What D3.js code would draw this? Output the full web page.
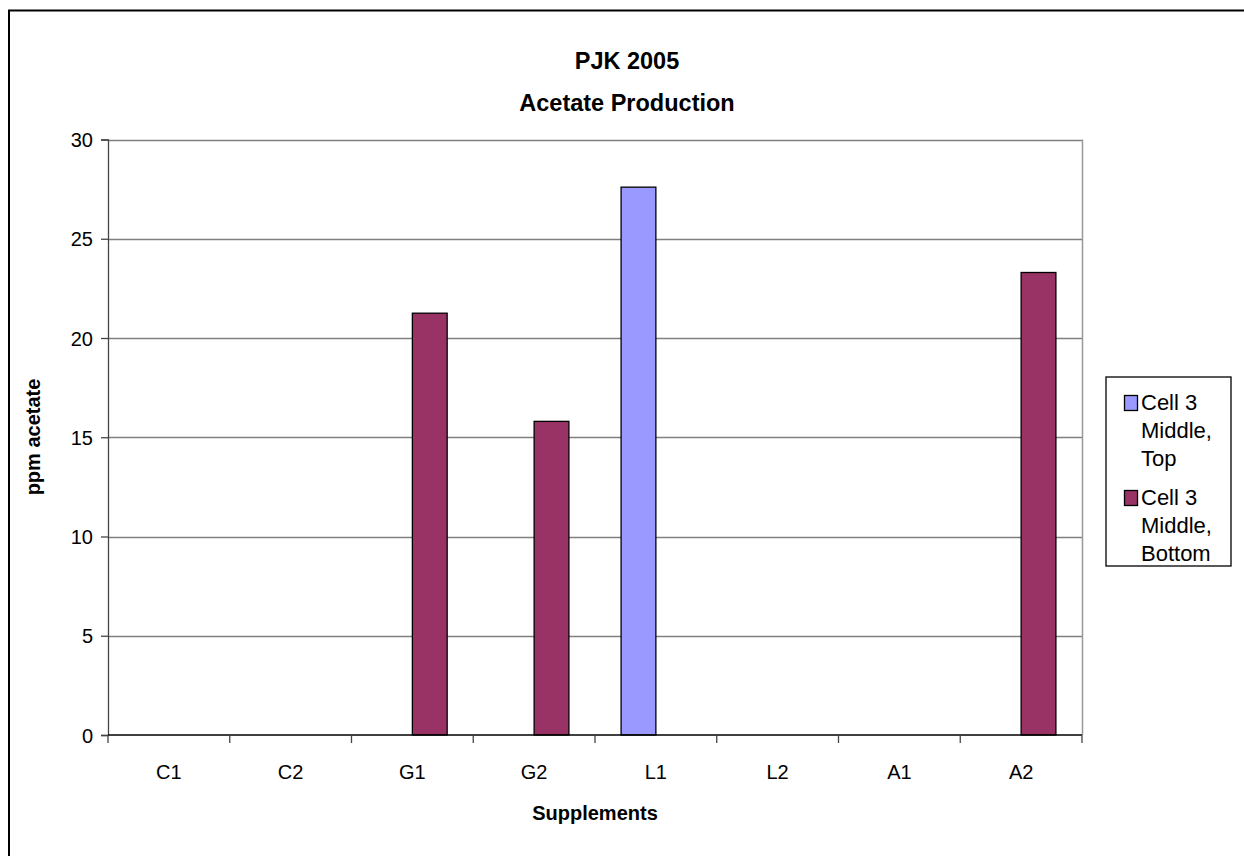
<!DOCTYPE html>
<html>
<head>
<meta charset="utf-8">
<script src="https://cdn.jsdelivr.net/npm/d3@7"></script>
<style>
  body { margin: 0; background: #fff; }
  text { font-family: "Liberation Sans", Arial, sans-serif; fill: #000; }
</style>
</head>
<body>
<svg id="chart" width="1244" height="856"></svg>
<script>
// data
const categories = ["C1", "C2", "G1", "G2", "L1", "L2", "A1", "A2"];
const seriesNames = [["Cell 3", "Middle,", "Top"], ["Cell 3", "Middle,", "Bottom"]];
const seriesColors = ["#9999ff", "#993366"];
const topValues = [0, 0, 0, 0, 27.6, 0, 0, 0];
const bottomValues = [0, 0, 21.25, 15.8, 0, 0, 0, 23.3];
const yTicks = [0, 5, 10, 15, 20, 25, 30];

const svg = d3.select("#chart");
const plot = {left: 108, right: 1082, top: 139.5, bottom: 735};

// outer frame (only top/left edges fall inside the window)
svg.append("rect")
    .attr("x", 9).attr("y", 10.5)
    .attr("width", 1240).attr("height", 860)
    .attr("fill", "none").attr("stroke", "#000").attr("stroke-width", 2);

var x = d3.scaleBand().domain(categories).range([plot.left, plot.right]);
var y = d3.scaleLinear().domain([0, 30]).range([plot.bottom, plot.top]);

// gridlines
svg.append("g")
    .selectAll("line")
    .data(yTicks.filter(t => t > 0))
    .join("line")
    .attr("x1", plot.left).attr("x2", plot.right)
    .attr("y1", d => Math.round(y(d)) + 0.5).attr("y2", d => Math.round(y(d)) + 0.5)
    .attr("stroke", "#808080").attr("stroke-width", 1.3);

// right border of plot area
svg.append("line")
    .attr("x1", plot.right + 0.5).attr("x2", plot.right + 0.5)
    .attr("y1", plot.top).attr("y2", plot.bottom)
    .attr("stroke", "#999").attr("stroke-width", 1.5);

// bars: group of two per category, gap width 150%
var barW = x.bandwidth() / 3.5;
var series = [topValues, bottomValues];
series.forEach(function (vals, si) {
    svg.append("g")
        .selectAll("rect")
        .data(categories.map((c, i) => ({cat: c, v: vals[i]})).filter(d => d.v > 0))
        .join("rect")
        .attr("x", d => x(d.cat) + x.bandwidth() / 2 - barW + si * barW)
        .attr("y", d => y(d.v))
        .attr("width", barW)
        .attr("height", d => y(0) - y(d.v))
        .attr("fill", seriesColors[si])
        .attr("stroke", "#000").attr("stroke-width", 1.3);
});

// y axis
var yAxis = svg.append("g")
    .attr("transform", "translate(" + plot.left + ",0)")
    .call(d3.axisLeft(y).tickValues(yTicks).tickSize(7).tickPadding(8));
yAxis.select(".domain").attr("stroke", "#444").attr("stroke-width", 1.3);
yAxis.selectAll(".tick line").attr("stroke", "#444").attr("stroke-width", 1.3);
yAxis.selectAll("text").style("font-size", "20px").attr("dy", "0.35em");

// x axis: ticks on category boundaries
var xAxis = svg.append("g")
    .attr("transform", "translate(0," + plot.bottom + ")");
xAxis.append("line")
    .attr("x1", plot.left).attr("x2", plot.right)
    .attr("stroke", "#000").attr("stroke-width", 1.5);
xAxis.selectAll(".xt")
    .data(categories.concat(["end"]))
    .join("line")
    .attr("class", "xt")
    .attr("x1", (d, i) => plot.left + i * x.step())
    .attr("x2", (d, i) => plot.left + i * x.step())
    .attr("y1", 0).attr("y2", 8)
    .attr("stroke", "#444").attr("stroke-width", 1.3);
xAxis.selectAll(".xl")
    .data(categories)
    .join("text")
    .attr("class", "xl")
    .attr("x", d => x(d) + x.bandwidth() / 2)
    .attr("y", 44)
    .attr("text-anchor", "middle")
    .style("font-size", "20px")
    .text(d => d);

// titles
svg.append("text").attr("x", 627).attr("y", 69)
    .attr("text-anchor", "middle")
    .style("font-size", "23.5px").style("font-weight", "bold")
    .text("PJK 2005");
svg.append("text").attr("x", 627).attr("y", 111)
    .attr("text-anchor", "middle")
    .style("font-size", "23.5px").style("font-weight", "bold")
    .text("Acetate Production");
svg.append("text").attr("x", 595).attr("y", 820)
    .attr("text-anchor", "middle")
    .style("font-size", "20px").style("font-weight", "bold")
    .text("Supplements");
svg.append("text")
    .attr("transform", "translate(40,437) rotate(-90)")
    .attr("text-anchor", "middle")
    .style("font-size", "20px").style("font-weight", "bold")
    .text("ppm acetate");

// legend
var legend = svg.append("g");
legend.append("rect")
    .attr("x", 1106).attr("y", 377)
    .attr("width", 125).attr("height", 189)
    .attr("fill", "#fff").attr("stroke", "#000").attr("stroke-width", 1.3);
var itemTops = [398, 493];
seriesNames.forEach(function (lines, si) {
    legend.append("rect")
        .attr("x", 1124.5).attr("y", itemTops[si] - 2.5)
        .attr("width", 13).attr("height", 15)
        .attr("fill", seriesColors[si])
        .attr("stroke", "#000").attr("stroke-width", 1.3);
    legend.selectAll(".lt" + si)
        .data(lines)
        .join("text")
        .attr("x", 1141)
        .attr("y", (d, i) => itemTops[si] + 12 + i * 28)
        .style("font-size", "22px")
        .text(d => d);
});
</script>
</body>
</html>
